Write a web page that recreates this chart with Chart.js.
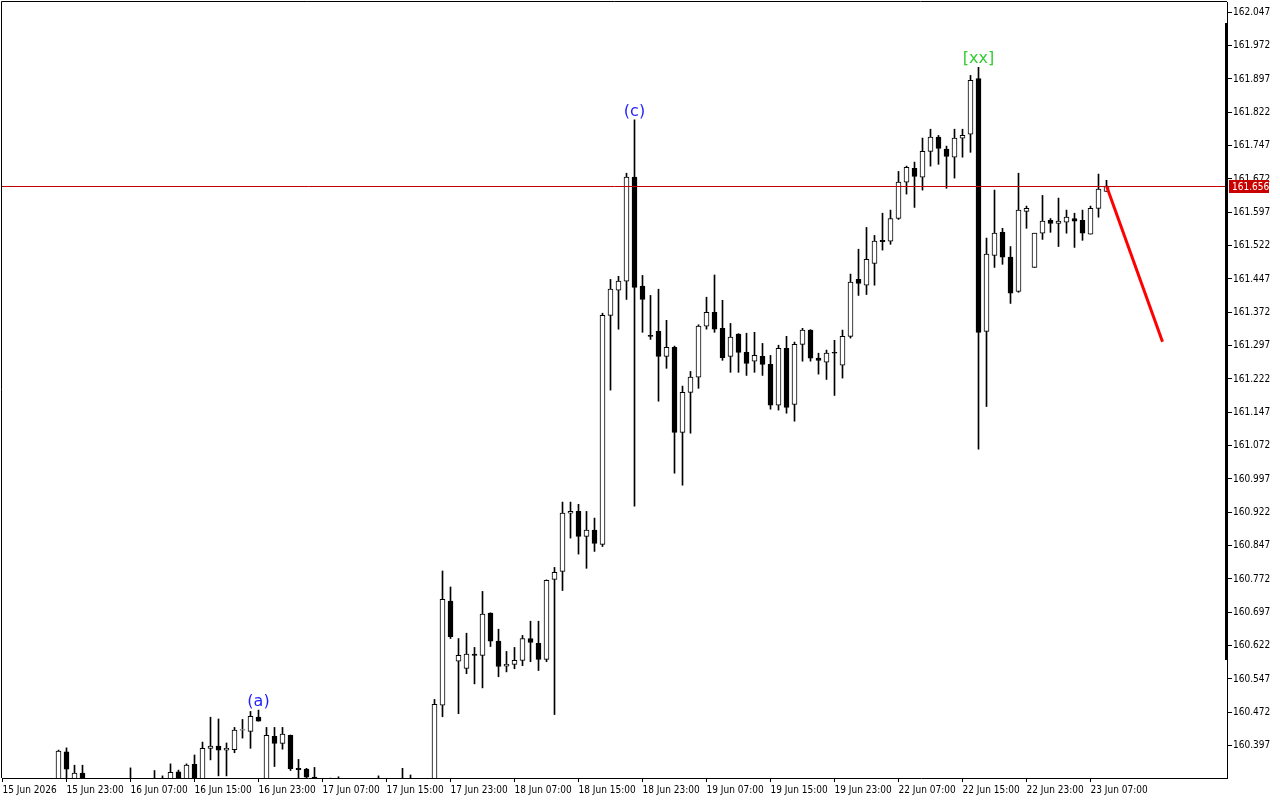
<!DOCTYPE html>
<html>
<head>
<meta charset="utf-8">
<title>USDJPY H1</title>
<script src="https://cdn.jsdelivr.net/npm/chart.js@4"></script>
<style>
body{margin:0;background:#fff;}
canvas{display:block;}
</style>
</head>
<body>
<canvas id="chart" width="1280" height="800"></canvas>
<script>

// hour index of each bar, counted from 15 Jun 15:00 (bars below the visible range are left out)
const barIndex = [7,8,9,10,16,19,20,21,22,23,24,25,26,27,28,29,30,31,32,33,34,35,36,37,38,39,41,42,47,50,51,
54,55,56,57,58,59,60,61,62,63,64,65,66,67,68,69,70,71,72,73,74,75,76,77,78,79,80,81,82,83,84,85,86,87,88,89,
90,91,92,93,94,95,96,97,98,99,100,101,102,103,104,105,106,107,108,109,110,111,112,113,114,115,116,117,118,119,
120,121,122,123,124,125,126,127,128,129,130,131,132,133,134,135,136,137,138];

const openP = [160.308,160.383,160.315,160.335,160.315,160.315,160.315,160.308,160.338,160.308,160.355,160.315,160.391,160.396,160.387,160.388,160.432,160.429,160.461,160.308,160.418,160.402,160.420,160.346,160.344,160.326,160.315,160.315,160.315,160.315,160.315,
160.308,160.488,160.722,160.587,160.571,160.603,160.600,160.695,160.632,160.576,160.580,160.589,160.638,160.627,160.591,160.771,160.789,160.920,160.924,160.868,160.882,160.850,161.365,161.422,161.442,161.676,161.431,161.320,161.329,161.273,161.293,161.102,161.192,161.226,161.341,161.372,
161.336,161.273,161.323,161.282,161.262,161.273,161.255,161.163,161.291,161.165,161.300,161.332,161.269,161.260,161.282,161.253,161.318,161.446,161.433,161.482,161.534,161.532,161.583,161.665,161.696,161.676,161.734,161.766,161.739,161.721,
161.764,161.773,161.898,161.329,161.500,161.552,161.496,161.419,161.599,161.473,161.550,161.579,161.572,161.575,161.583,161.579,161.548,161.606,161.644];

const highP = [160.387,160.392,160.353,160.353,160.347,160.341,160.329,160.356,160.342,160.356,160.376,160.405,160.461,160.457,160.403,160.438,160.456,160.474,160.477,160.438,160.438,160.438,160.421,160.366,160.346,160.348,160.324,160.327,160.329,160.346,160.331,
160.501,160.790,160.754,160.638,160.650,160.618,160.744,160.696,160.659,160.609,160.618,160.645,160.677,160.677,160.770,160.798,160.945,160.945,160.940,160.924,160.909,161.370,161.446,161.453,161.685,161.805,161.455,161.410,161.424,161.354,161.296,161.206,161.239,161.344,161.406,161.456,
161.399,161.347,161.324,161.325,161.327,161.302,161.275,161.298,161.318,161.305,161.336,161.333,161.280,161.287,161.309,161.332,161.458,161.514,161.563,161.545,161.595,161.602,161.689,161.701,161.710,161.764,161.784,161.770,161.746,161.784,
161.784,161.905,161.923,161.539,161.647,161.561,161.520,161.685,161.611,161.550,161.635,161.583,161.629,161.602,161.595,161.602,161.611,161.683,161.669];

const lowP = [160.297,160.308,160.306,160.306,160.297,160.297,160.302,160.297,160.297,160.297,160.297,160.306,160.365,160.329,160.329,160.381,160.414,160.391,160.452,160.297,160.350,160.389,160.341,160.315,160.315,160.297,160.297,160.297,160.297,160.297,160.297,
160.297,160.462,160.638,160.469,160.559,160.536,160.527,160.620,160.552,160.563,160.570,160.577,160.586,160.566,160.586,160.467,160.746,160.864,160.828,160.796,160.834,160.845,161.197,161.334,161.401,160.936,161.327,161.311,161.172,161.246,161.010,160.983,161.100,161.201,161.334,161.327,
161.264,161.237,161.237,161.230,161.237,161.230,161.154,161.152,161.145,161.127,161.262,161.262,161.233,161.221,161.185,161.224,161.314,161.410,161.412,161.433,161.512,161.525,161.581,161.638,161.608,161.647,161.701,161.705,161.651,161.674,
161.721,161.732,161.064,161.160,161.473,161.480,161.392,161.417,161.561,161.473,161.536,161.552,161.520,161.550,161.518,161.534,161.548,161.586,161.644];

const closeP = [160.385,160.344,160.335,160.315,160.306,160.306,160.308,160.337,160.308,160.353,160.308,160.391,160.396,160.387,160.391,160.432,160.433,160.463,160.452,160.420,160.402,160.423,160.345,160.343,160.326,160.308,160.308,160.308,160.308,160.308,160.308,
160.490,160.726,160.642,160.600,160.603,160.600,160.693,160.632,160.575,160.580,160.589,160.638,160.629,160.591,160.769,160.787,160.920,160.924,160.868,160.882,160.852,161.365,161.424,161.442,161.676,161.428,161.401,161.318,161.273,161.293,161.102,161.192,161.226,161.341,161.372,161.334,
161.270,161.316,161.282,161.257,161.275,161.255,161.163,161.291,161.158,161.300,161.332,161.269,161.264,161.280,161.280,161.318,161.440,161.437,161.491,161.532,161.531,161.583,161.665,161.698,161.678,161.734,161.766,161.741,161.723,161.764,
161.770,161.894,161.327,161.503,161.550,161.496,161.415,161.602,161.606,161.550,161.577,161.572,161.577,161.586,161.577,161.550,161.606,161.649,161.656];

// time axis labels, one every 8 bars
const timeLabels = ["15 Jun 2026","15 Jun 23:00","16 Jun 07:00","16 Jun 15:00","16 Jun 23:00","17 Jun 07:00",
"17 Jun 15:00","17 Jun 23:00","18 Jun 07:00","18 Jun 15:00","18 Jun 23:00","19 Jun 07:00","19 Jun 15:00",
"19 Jun 23:00","22 Jun 07:00","22 Jun 15:00","22 Jun 23:00","23 Jun 07:00"];

const priceTicks = [160.397,160.472,160.547,160.622,160.697,160.772,160.847,160.922,160.997,161.072,161.147,
161.222,161.297,161.372,161.447,161.522,161.597,161.672,161.747,161.822,161.897,161.972,162.047];

const lastPrice = 161.656;

// projected move (red line)
const forecastBars = [138,145];
const forecastPrices = [161.656,161.306];

// wave marks
const waveTexts = ["(a)","(c)","[xx]"];
const waveBars = [32,79,122];


const axisFont = {family:"'Liberation Sans Narrow','DejaVu Sans Condensed','Liberation Sans',sans-serif",size:10};

const wickData = barIndex.map((k,i)=>({x:k,y:[lowP[i],highP[i]]}));
const bodyData = barIndex.map((k,i)=>({x:k,y:[Math.min(openP[i],closeP[i]),Math.max(openP[i],closeP[i])]}));
const bodyColors = barIndex.map((k,i)=>closeP[i]>=openP[i] ? "#ffffff" : "#000000");
const forecastData = forecastBars.map((k,i)=>({x:k,y:forecastPrices[i]}));


function noPad(s){
s.paddingTop = 0;
s.paddingBottom = 0;
s.paddingLeft = 0;
s.paddingRight = 0;
}


const overlay = {

id:"overlay",

afterDatasetsDraw(chart){

const ctx = chart.ctx;
const a = chart.chartArea;
const xs = chart.scales.x;
const ys = chart.scales.y;

ctx.save();

// price line
const py = Math.round(ys.getPixelForValue(lastPrice)) + 0.5;
ctx.strokeStyle = "#c00000";
ctx.lineWidth = 1;
ctx.beginPath();
ctx.moveTo(a.left,py);
ctx.lineTo(a.right,py);
ctx.stroke();

// wave labels
ctx.font = "16px 'DejaVu Sans'";
ctx.textAlign = "center";
ctx.textBaseline = "alphabetic";
waveTexts.forEach((t,i)=>{
const idx = barIndex.indexOf(waveBars[i]);
ctx.fillStyle = t=="[xx]" ? "#32cd32" : "#1f1fff";
ctx.fillText(t, xs.getPixelForValue(waveBars[i]), ys.getPixelForValue(highP[idx]) - 4);
});

ctx.restore();

},

afterDraw(chart){

const ctx = chart.ctx;
const a = chart.chartArea;
const ys = chart.scales.y;

ctx.save();

// frame
ctx.strokeStyle = "#000";
ctx.lineWidth = 1;
ctx.beginPath();
ctx.moveTo(a.left-0.5,a.bottom);
ctx.lineTo(a.left-0.5,a.top-0.5);
ctx.lineTo(a.right,a.top-0.5);
ctx.stroke();

// scroll bar on the price scale
ctx.fillStyle = "#000";
ctx.fillRect(a.right-2,23,3,637);

// last price tag
const py = Math.round(ys.getPixelForValue(lastPrice));
ctx.fillStyle = "#c80000";
ctx.fillRect(a.right+2,py-6,40,13);
ctx.fillStyle = "#fff";
ctx.font = "10px " + axisFont.family;
ctx.textAlign = "left";
ctx.textBaseline = "middle";
ctx.fillText(lastPrice.toFixed(3), a.right+5, py+1);

ctx.restore();

}

};


new Chart(document.getElementById("chart"),{

type:"bar",

data:{
datasets:[
{
type:"line",
data:forecastData,
borderColor:"#ff0000",
borderWidth:3,
pointRadius:0,
order:0
},
{
data:bodyData,
backgroundColor:bodyColors,
borderColor:"#000000",
borderWidth:1,
borderSkipped:false,
barThickness:5,
grouped:false,
order:1
},
{
data:wickData,
backgroundColor:"#000000",
borderWidth:0,
barThickness:1,
grouped:false,
order:2
}
]
},

options:{
responsive:false,
animation:false,
events:[],
layout:{padding:{left:2,top:2,right:0,bottom:0}},
plugins:{
legend:{display:false},
tooltip:{enabled:false}
},
scales:{
x:{
type:"linear",
min:-0.0625,
max:153.0625,
offset:false,
grid:{display:true,offset:false,drawOnChartArea:false,drawTicks:true,tickLength:4,color:"#000"},
border:{display:true,color:"#000"},
ticks:{
font:axisFont,
color:"#000",
align:"start",
padding:2,
maxRotation:0,
autoSkip:false,
callback:(v,i)=>timeLabels[i]
},
afterBuildTicks:s=>{s.ticks = timeLabels.map((t,i)=>({value:i*8}));},
afterFit:s=>{s.height = 22; noPad(s);}
},
y:{
position:"right",
min:160.3242,
max:162.0702,
grid:{display:true,drawOnChartArea:false,drawTicks:true,tickLength:5,color:"#000"},
border:{display:true,color:"#000"},
ticks:{
font:axisFont,
color:"#000",
padding:1,
callback:v=>v.toFixed(3)
},
afterBuildTicks:s=>{s.ticks = priceTicks.map(v=>({value:v}));},
afterFit:s=>{s.width = 53; noPad(s);}
}
}
},

plugins:[overlay]

});

</script>
</body>
</html>
